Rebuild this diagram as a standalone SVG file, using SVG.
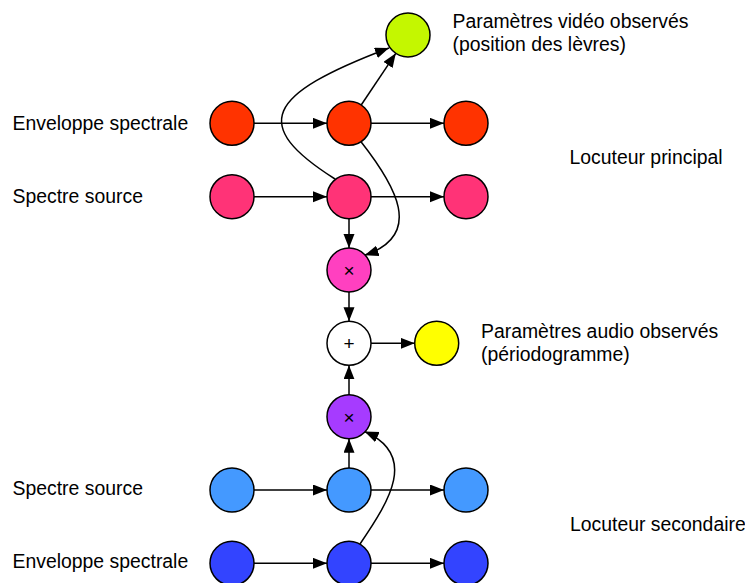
<svg xmlns="http://www.w3.org/2000/svg" width="745" height="583" viewBox="0 0 745 583">
<style>
.n{stroke:#000;stroke-width:1.5}
.c{fill:none;stroke:#000;stroke-width:1.5}
.t{font-family:"Liberation Sans",Arial,Helvetica,sans-serif;font-size:19.4px;fill:#000}
.op{font-family:"Liberation Sans",Arial,sans-serif;font-size:19px;fill:#000;text-anchor:middle}
</style>
<defs>
<marker id="ah" markerUnits="userSpaceOnUse" markerWidth="15" markerHeight="12" refX="14" refY="5.5" orient="auto">
<path d="M0,0 L14,5.5 L0,11 z" fill="#000"/>
</marker>
</defs>
<rect width="745" height="583" fill="#fff"/>
<g id="connectors">
<path class="c" marker-end="url(#ah)" d="M254,123.3 H327"/>
<path class="c" marker-end="url(#ah)" d="M371,123.3 H444"/>
<path class="c" marker-end="url(#ah)" d="M254,196.7 H327"/>
<path class="c" marker-end="url(#ah)" d="M371,196.7 H444"/>
<path class="c" marker-end="url(#ah)" d="M361.2,105 L395.8,53.3"/>
<path class="c" marker-end="url(#ah)" d="M335,179 C250,125 265,95 389,48"/>
<path class="c" marker-end="url(#ah)" d="M361,141.7 C395,185 425,235 364.6,255.3"/>
<path class="c" marker-end="url(#ah)" d="M349,218.7 V248"/>
<path class="c" marker-end="url(#ah)" d="M349,292 V321.3"/>
<path class="c" marker-end="url(#ah)" d="M371,343.3 H414.7"/>
<path class="c" marker-end="url(#ah)" d="M349,394.7 V365.3"/>
<path class="c" marker-end="url(#ah)" d="M349,468 V438.7"/>
<path class="c" marker-end="url(#ah)" d="M254,490 H327"/>
<path class="c" marker-end="url(#ah)" d="M371,490 H444"/>
<path class="c" marker-end="url(#ah)" d="M254,563.3 H327"/>
<path class="c" marker-end="url(#ah)" d="M371,563.3 H444"/>
<path class="c" marker-end="url(#ah)" d="M360,544 C390,500 418,455 364.6,431.5"/>
</g>
<g id="video"><circle class="n" cx="408" cy="35" r="22" fill="#C4F700"/></g>
<g id="env1a"><circle class="n" cx="232" cy="123.3" r="22" fill="#FF3300"/></g>
<g id="env1b"><circle class="n" cx="349" cy="123.3" r="22" fill="#FF3300"/></g>
<g id="env1c"><circle class="n" cx="466" cy="123.3" r="22" fill="#FF3300"/></g>
<g id="src1a"><circle class="n" cx="232" cy="196.7" r="22" fill="#FF3377"/></g>
<g id="src1b"><circle class="n" cx="349" cy="196.7" r="22" fill="#FF3377"/></g>
<g id="src1c"><circle class="n" cx="466" cy="196.7" r="22" fill="#FF3377"/></g>
<g id="mul1"><circle class="n" cx="349" cy="270" r="22" fill="#FF40C0"/><text class="op" x="349" y="277">×</text></g>
<g id="sum"><circle class="n" cx="349" cy="343.3" r="22" fill="#FFFFFF"/><text class="op" x="349" y="350">+</text></g>
<g id="audio"><circle class="n" cx="436.7" cy="343.3" r="22" fill="#FFFF00"/></g>
<g id="mul2"><circle class="n" cx="349" cy="416.7" r="22" fill="#A63BFF"/><text class="op" x="349" y="423.7">×</text></g>
<g id="src2a"><circle class="n" cx="232" cy="490" r="22" fill="#4499FF"/></g>
<g id="src2b"><circle class="n" cx="349" cy="490" r="22" fill="#4499FF"/></g>
<g id="src2c"><circle class="n" cx="466" cy="490" r="22" fill="#4499FF"/></g>
<g id="env2a"><circle class="n" cx="232" cy="563.3" r="22" fill="#3344FF"/></g>
<g id="env2b"><circle class="n" cx="349" cy="563.3" r="22" fill="#3344FF"/></g>
<g id="env2c"><circle class="n" cx="466" cy="563.3" r="22" fill="#3344FF"/></g>
<g id="labels">
<text class="t" x="12.5" y="129.5">Enveloppe spectrale</text>
<text class="t" x="12.5" y="202.7">Spectre source</text>
<text class="t" x="12.5" y="494.5">Spectre source</text>
<text class="t" x="12.5" y="567.5">Enveloppe spectrale</text>
<text class="t" x="452.5" y="28.3">Paramètres vidéo observés</text>
<text class="t" x="452.5" y="50.8">(position des lèvres)</text>
<text class="t" x="569.5" y="164">Locuteur principal</text>
<text class="t" x="481" y="338.3">Paramètres audio observés</text>
<text class="t" x="481" y="360.5">(périodogramme)</text>
<text class="t" x="570" y="530.7">Locuteur secondaire</text>
</g>
</svg>
